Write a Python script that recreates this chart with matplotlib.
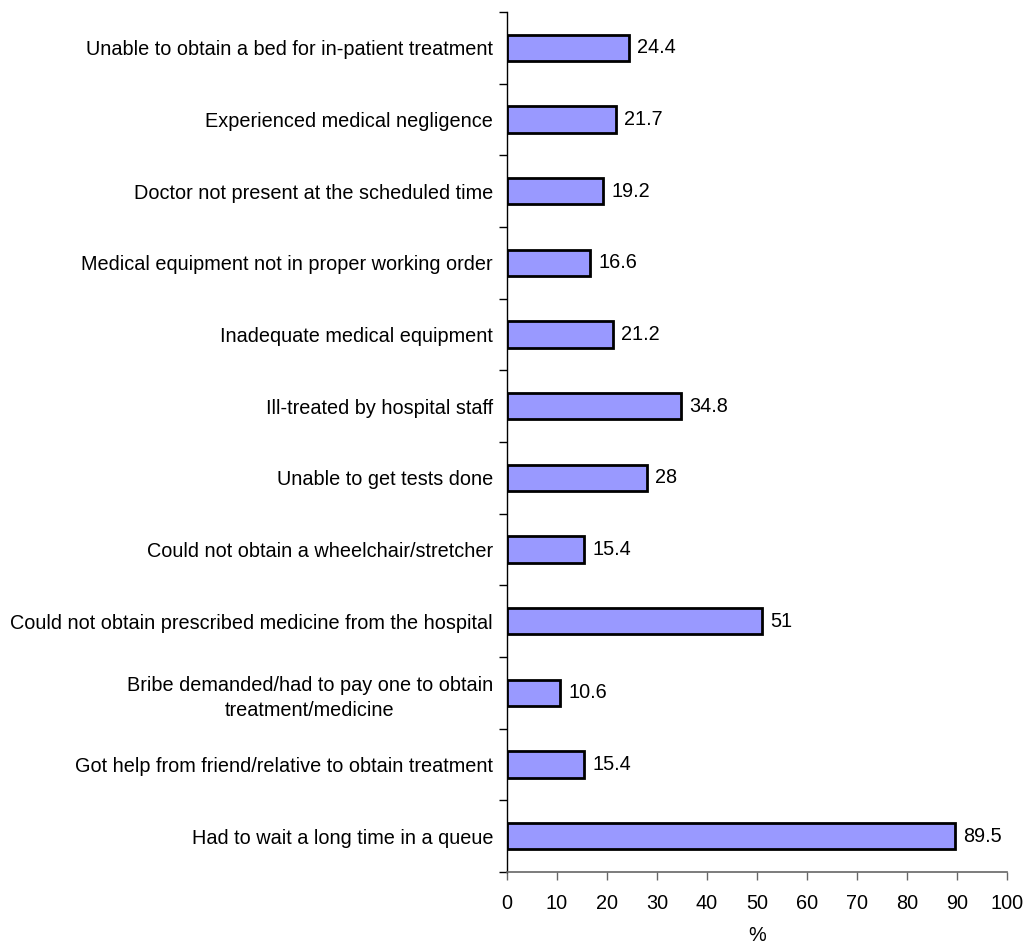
import matplotlib
matplotlib.use("Agg")
import matplotlib.pyplot as plt
import numpy as np

plt.rcParams['font.family'] = ['Liberation Sans', 'DejaVu Sans']

categories = [
    "Had to wait a long time in a queue",
    "Got help from friend/relative to obtain treatment",
    "Bribe demanded/had to pay one to obtain\ntreatment/medicine",
    "Could not obtain prescribed medicine from the hospital",
    "Could not obtain a wheelchair/stretcher",
    "Unable to get tests done",
    "Ill-treated by hospital staff",
    "Inadequate medical equipment",
    "Medical equipment not in proper working order",
    "Doctor not present at the scheduled time",
    "Experienced medical negligence",
    "Unable to obtain a bed for in-patient treatment",
]
values = [89.5, 15.4, 10.6, 51, 15.4, 28, 34.8, 21.2, 16.6, 19.2, 21.7, 24.4]
value_labels = ["89.5", "15.4", "10.6", "51", "15.4", "28", "34.8", "21.2", "16.6", "19.2", "21.7", "24.4"]
xticks = [0, 10, 20, 30, 40, 50, 60, 70, 80, 90, 100]

FS = 14.3

fig = plt.figure(figsize=(10.30, 9.46), dpi=100)
ax = fig.add_axes([507 / 1030, 74 / 946, 500 / 1030, 860 / 946])

y = np.arange(len(categories))
ax.barh(y, values, height=0.37, color="#9999FF", edgecolor="black", linewidth=2.0, zorder=3)

for yi, v, lab in zip(y, values, value_labels):
    ax.annotate(lab, (v, yi), xytext=(6, 0), textcoords="offset points",
                va="center", ha="left", fontsize=FS)

ax.set_xlim(0, 100)
ax.set_ylim(-0.5, len(categories) - 0.5)
ax.set_xticks(xticks)
ax.set_xticklabels([str(t) for t in xticks], fontsize=FS)
ax.set_xlabel("%", fontsize=FS, labelpad=9)

# category labels at bar centres, tick marks at category boundaries
ax.set_yticks(y)
ax.set_yticklabels(categories, fontsize=FS, ha="right", multialignment="center",
                   linespacing=1.4)
ax.tick_params(axis="y", which="major", length=0, pad=10)
ax.set_yticks(np.arange(len(categories) + 1) - 0.5, minor=True)
ax.tick_params(axis="y", which="minor", length=6, width=1, color="black")
ax.tick_params(axis="x", length=6, width=1, color="#666666", pad=10)

for s in ("top", "right"):
    ax.spines[s].set_visible(False)
ax.spines["left"].set_color("black")
ax.spines["left"].set_linewidth(1)
ax.spines["bottom"].set_color("#666666")
ax.spines["bottom"].set_linewidth(1.2)

fig.savefig("out.png", dpi=100)
